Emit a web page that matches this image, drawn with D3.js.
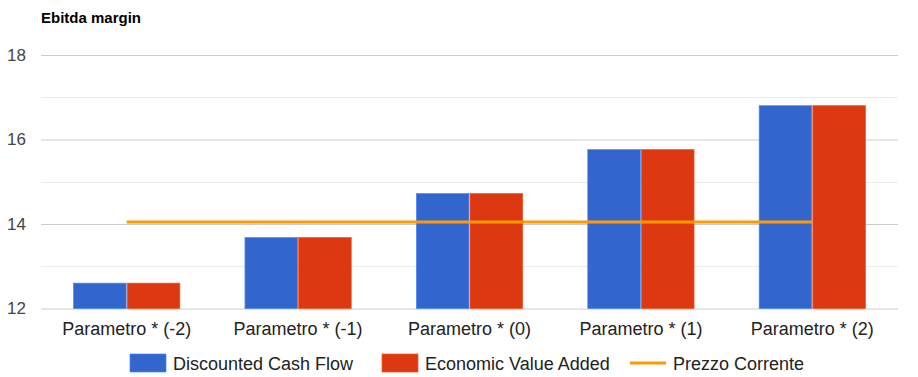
<!DOCTYPE html>
<html>
<head>
<meta charset="utf-8">
<script src="https://cdn.jsdelivr.net/npm/d3@7"></script>
<style>
  body { margin: 0; background: #fff; }
  text { font-family: "Liberation Sans", Arial, sans-serif; }
</style>
</head>
<body>
<div id="chart"></div>
<script>
// dati
var categories = ["Parametro * (-2)", "Parametro * (-1)", "Parametro * (0)", "Parametro * (1)", "Parametro * (2)"];
var seriesNames = ["Discounted Cash Flow", "Economic Value Added"];
var dcfValues = [12.6, 13.68, 14.72, 15.76, 16.8];
var evaValues = [12.6, 13.68, 14.72, 15.76, 16.8];
var prezzoCorrente = [14.05, 14.05, 14.05, 14.05, 14.05];
var majorTicks = [12, 14, 16, 18];
var minorTicks = [13, 15, 17];

var colors = ["#3366cc", "#dc3912"];
var lineColor = "#ff9900";

var width = 918, height = 377;
var plotLeft = 41, plotRight = 898, plotTop = 55, plotBottom = 308.5;

var svg = d3.select("#chart").append("svg")
  .attr("width", width)
  .attr("height", height);

// titolo
svg.append("text")
  .attr("x", 41).attr("y", 23)
  .attr("font-size", "15px")
  .attr("font-weight", "bold")
  .text("Ebitda margin");

var y = d3.scaleLinear().domain([12, 18]).range([plotBottom, plotTop]);

var x0 = d3.scaleBand()
  .domain(categories)
  .range([plotLeft, plotRight])
  .paddingInner(0.38)
  .paddingOuter(0.19);

var x1 = d3.scaleBand()
  .domain(seriesNames)
  .range([0, x0.bandwidth()])
  .paddingInner(0.02);

// griglia secondaria
svg.append("g").selectAll("line")
  .data(minorTicks)
  .enter().append("line")
  .attr("x1", plotLeft).attr("x2", plotRight)
  .attr("y1", function(d) { return Math.round(y(d)) + 0.5; })
  .attr("y2", function(d) { return Math.round(y(d)) + 0.5; })
  .attr("stroke", "#ebebeb");

// griglia principale + etichette asse y
var yAxis = svg.append("g")
  .attr("transform", "translate(" + plotRight + ",0)")
  .call(d3.axisLeft(y).tickValues(majorTicks).tickSize(plotRight - plotLeft).tickFormat(d3.format("d")));
yAxis.select(".domain").remove();
yAxis.selectAll(".tick line").attr("stroke", "#cccccc");
yAxis.selectAll(".tick text")
  .attr("x", -(plotRight - 26))
  .attr("fill", "#444")
  .attr("font-size", "17px")
  .attr("font-family", "Liberation Sans, Arial, sans-serif");

// barre
var rows = categories.map(function(c, i) {
  return { cat: c, values: [dcfValues[i], evaValues[i]] };
});

var groups = svg.append("g").selectAll("g")
  .data(rows)
  .enter().append("g")
  .attr("transform", function(d) { return "translate(" + x0(d.cat) + ",0)"; });

groups.selectAll("rect")
  .data(function(d) { return d.values.map(function(v, j) { return { name: seriesNames[j], value: v, idx: j }; }); })
  .enter().append("rect")
  .attr("x", function(d) { return x1(d.name); })
  .attr("y", function(d) { return y(d.value); })
  .attr("width", x1.bandwidth())
  .attr("height", function(d) { return y(12) - y(d.value); })
  .attr("fill", function(d) { return colors[d.idx]; })
  .attr("stroke", function(d) { return d3.color(colors[d.idx]).brighter(0.8); })
  .attr("stroke-width", 0.7);

// linea prezzo corrente
var line = d3.line()
  .x(function(d, i) { return x0(categories[i]) + x0.bandwidth() / 2; })
  .y(function(d) { return y(d); });

svg.append("path")
  .datum(prezzoCorrente)
  .attr("d", line)
  .attr("fill", "none")
  .attr("stroke", lineColor)
  .attr("stroke-width", 3);

// etichette asse x
svg.append("g").selectAll("text")
  .data(categories)
  .enter().append("text")
  .attr("x", function(d) { return x0(d) + x0.bandwidth() / 2; })
  .attr("y", 335)
  .attr("text-anchor", "middle")
  .attr("font-size", "18px")
  .attr("fill", "#222")
  .text(function(d) { return d; });

// legenda
var legendItems = [
  { name: seriesNames[0], type: "rect", color: colors[0], x: 130 },
  { name: seriesNames[1], type: "rect", color: colors[1], x: 382 },
  { name: "Prezzo Corrente", type: "line", color: lineColor, x: 630 }
];

var legend = svg.append("g").selectAll("g")
  .data(legendItems)
  .enter().append("g")
  .attr("transform", function(d) { return "translate(" + d.x + ",354)"; });

legend.filter(function(d) { return d.type === "rect"; })
  .append("rect")
  .attr("width", 36).attr("height", 18)
  .attr("fill", function(d) { return d.color; })
  .attr("stroke", function(d) { return d3.color(d.color).brighter(0.8); })
  .attr("stroke-width", 0.7);

legend.filter(function(d) { return d.type === "line"; })
  .append("line")
  .attr("x1", 0).attr("x2", 36)
  .attr("y1", 9).attr("y2", 9)
  .attr("stroke", function(d) { return d.color; })
  .attr("stroke-width", 3);

legend.append("text")
  .attr("x", 43).attr("y", 15.5)
  .attr("font-size", "18px")
  .attr("fill", "#222")
  .text(function(d) { return d.name; });
</script>
</body>
</html>
